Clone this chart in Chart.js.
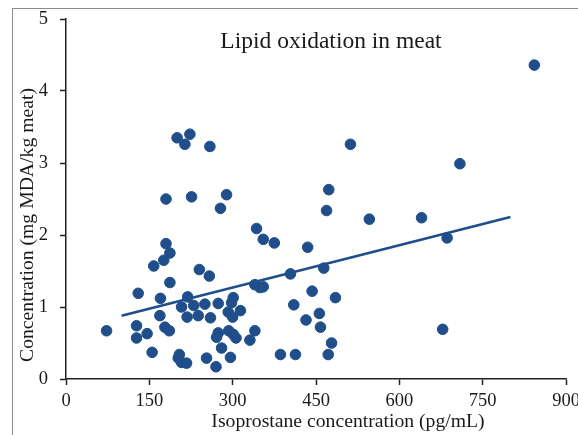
<!DOCTYPE html>
<html>
<head>
<meta charset="utf-8">
<script src="https://cdn.jsdelivr.net/npm/chart.js@4/dist/chart.umd.min.js"></script>
<style>
  html, body { margin: 0; padding: 0; background: #fff; overflow: hidden; }
  #frame { position: absolute; left: 12px; top: 8px; width: 800px; height: 800px; border: 1px solid #8c8c8c; }
  #wrap { position: absolute; left: 0; top: 0; width: 600px; height: 435px; }
</style>
</head>
<body>
<div id="frame"></div>
<div id="wrap"><canvas id="chart"></canvas></div>
<script>
// isoprostane (pg/mL) vs MDA concentration (mg/kg meat)
const isoprostane = [
  200, 223, 214, 259, 180, 226, 289, 278, 180, 187,
  176, 158, 240, 258, 187, 130, 170, 219, 301, 298,
  208, 230, 250, 274, 292, 314, 300, 169, 218, 238,
  260, 73, 127, 127, 146, 178, 186, 274, 271, 293,
  301, 306, 331, 155, 204, 202, 208, 217, 253, 280,
  296, 270, 343, 355, 375, 340, 349, 355, 340, 404,
  410, 386, 413, 512, 473, 469, 546, 435, 464, 443,
  485, 456, 432, 458, 478, 472, 843, 709, 640, 686,
  678
];
const mda = [
  3.35, 3.40, 3.26, 3.23, 2.50, 2.53, 2.56, 2.37, 1.88, 1.75,
  1.65, 1.57, 1.52, 1.43, 1.34, 1.19, 1.12, 1.14, 1.13, 1.06,
  1.00, 1.02, 1.04, 1.05, 0.93, 0.95, 0.86, 0.88, 0.86, 0.88,
  0.85, 0.67, 0.74, 0.57, 0.63, 0.72, 0.67, 0.64, 0.58, 0.67,
  0.62, 0.57, 0.54, 0.37, 0.34, 0.29, 0.23, 0.22, 0.29, 0.43,
  0.30, 0.17, 2.09, 1.94, 1.89, 1.31, 1.27, 1.28, 0.67, 1.46,
  1.03, 0.34, 0.34, 3.26, 2.63, 2.34, 2.22, 1.83, 1.54, 1.22,
  1.13, 0.91, 0.82, 0.72, 0.50, 0.34, 4.36, 2.99, 2.24, 1.96,
  0.69
];
const trendX = [100, 800];
const trendY = [0.88, 2.25];

const chartTitle = 'Lipid oxidation in meat';
const xTitle = 'Isoprostane concentration (pg/mL)';
const yTitle = 'Concentration (mg MDA/kg meat)';

const blue = '#1f4e8a';
const serif = '"Liberation Serif", "Times New Roman", serif';

const textPlugin = {
  id: 'texts',
  afterDraw(chart) {
    const { ctx, chartArea } = chart;
    ctx.save();
    ctx.fillStyle = '#1a1a1a';
    ctx.textAlign = 'center';
    ctx.textBaseline = 'middle';
    ctx.font = '23.5px ' + serif;
    ctx.fillText(chartTitle, chartArea.left + 265, chartArea.top + 23);
    ctx.font = '19.7px ' + serif;
    ctx.fillText(xTitle, chartArea.left + 282, chartArea.bottom + 43);
    ctx.translate(28, chartArea.top + 206);
    ctx.rotate(-Math.PI / 2);
    ctx.fillText(yTitle, 0, 0);
    ctx.restore();
  }
};

const axisFont = { family: serif, size: 18.5 };

new Chart(document.getElementById('chart'), {
  type: 'scatter',
  data: {
    datasets: [
      {
        data: isoprostane.map((x, i) => ({ x, y: mda[i] })),
        backgroundColor: blue,
        borderColor: blue,
        pointRadius: 5.3,
        pointHoverRadius: 5.3
      },
      {
        type: 'line',
        data: trendX.map((x, i) => ({ x, y: trendY[i] })),
        borderColor: blue,
        borderWidth: 2.6,
        pointRadius: 0,
        fill: false
      }
    ]
  },
  plugins: [textPlugin],
  options: {
    responsive: true,
    maintainAspectRatio: false,
    animation: false,
    layout: { padding: { top: 19, right: 34, left: 0, bottom: 0 } },
    plugins: { legend: { display: false }, tooltip: { enabled: false } },
    scales: {
      x: {
        type: 'linear', min: 0, max: 900,
        ticks: { stepSize: 150, color: '#1a1a1a', font: axisFont, padding: 5, maxRotation: 0 },
        grid: { drawOnChartArea: false, tickLength: 6, tickColor: '#222', tickWidth: 1.5 },
        border: { color: '#222', width: 1.5 },
        afterFit: s => { s.height = 56; s.paddingLeft = 0; s.paddingRight = 0; }
      },
      y: {
        type: 'linear', min: 0, max: 5,
        ticks: { stepSize: 1, color: '#1a1a1a', font: axisFont, padding: 12 },
        grid: { drawOnChartArea: false, tickLength: 6, tickColor: '#222', tickWidth: 1.5 },
        border: { color: '#222', width: 1.5 },
        afterFit: s => { s.width = 66; s.paddingTop = 0; s.paddingBottom = 0; }
      }
    }
  }
});
</script>
</body>
</html>
